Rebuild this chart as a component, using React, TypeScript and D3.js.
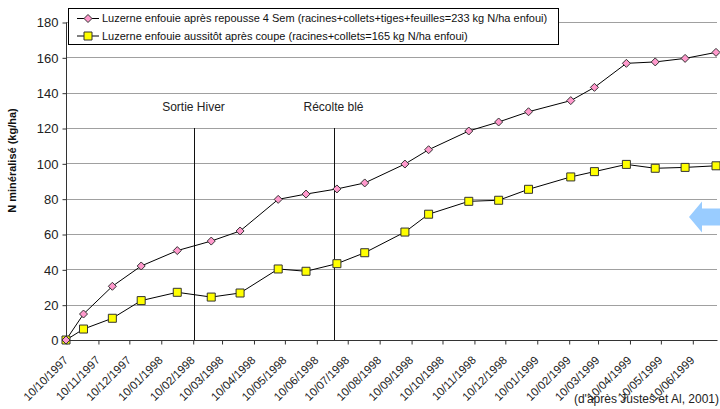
import React from "react";
import * as d3 from "d3";

// sampling dates (dd/mm/yyyy)
const sampleDates = [
  "10/10/1997", "27/10/1997", "24/11/1997", "22/12/1997", "26/01/1998",
  "28/02/1998", "28/03/1998", "04/05/1998", "31/05/1998", "30/06/1998",
  "27/07/1998", "04/09/1998", "27/09/1998", "05/11/1998", "04/12/1998",
  "02/01/1999", "12/02/1999", "07/03/1999", "07/04/1999", "05/05/1999",
  "03/06/1999", "03/07/1999",
];

// N mineralised (kg/ha)
const repousseValues = [
  0, 14.7, 30.4, 41.9, 50.6, 56.0, 61.7, 79.6, 82.6, 85.5, 88.9, 99.6,
  107.7, 118.3, 123.4, 129.2, 135.5, 143.0, 156.6, 157.4, 159.4, 162.8,
];
const coupeValues = [
  0, 6.2, 12.3, 22.3, 27.0, 24.3, 26.6, 40.2, 38.9, 43.2, 49.4, 61.1,
  71.2, 78.5, 79.1, 85.3, 92.3, 95.3, 99.4, 97.2, 97.7, 98.6,
];

const seriesNames = [
  "Luzerne enfouie après repousse 4 Sem (racines+collets+tiges+feuilles=233 kg N/ha enfoui)",
  "Luzerne enfouie aussitôt après coupe (racines+collets=165 kg N/ha enfoui)",
];

const xTickLabels = [
  "10/10/1997", "10/11/1997", "10/12/1997", "10/01/1998", "10/02/1998",
  "10/03/1998", "10/04/1998", "10/05/1998", "10/06/1998", "10/07/1998",
  "10/08/1998", "10/09/1998", "10/10/1998", "10/11/1998", "10/12/1998",
  "10/01/1999", "10/02/1999", "10/03/1999", "10/04/1999", "10/05/1999",
  "10/06/1999",
];
const yTicks = [0, 20, 40, 60, 80, 100, 120, 140, 160, 180];

// event markers (date, label, height of line)
const events = [
  { date: "11/02/1998", label: "Sortie Hiver", top: 120 },
  { date: "27/06/1998", label: "Récolte blé", top: 120 },
];

const axisStart = "10/10/1997";
const axisEnd = "03/07/1999";

const W = 720;
const H = 409;
const FONT = "'Liberation Sans', Arial, sans-serif";

const App = () => {
  const svgRef = React.useRef<SVGSVGElement>(null);

  React.useEffect(() => {
    const parse = d3.utcParse("%d/%m/%Y");
    const left = 66, right = 716, top = 22, bottom = 340;

    const xScale = d3
      .scaleUtc()
      .domain([parse(axisStart) as Date, parse(axisEnd) as Date])
      .range([left, right]);
    const yScale = d3.scaleLinear().domain([0, 180]).range([bottom, top]);

    const svg = d3.select(svgRef.current);
    svg.selectAll("*").remove();

    // horizontal grid lines
    svg
      .append("g")
      .selectAll("line")
      .data(yTicks.filter((d) => d > 0))
      .enter()
      .append("line")
      .attr("x1", left)
      .attr("x2", right + 1)
      .attr("y1", (d) => Math.round(yScale(d)) + 0.5)
      .attr("y2", (d) => Math.round(yScale(d)) + 0.5)
      .attr("stroke", "#a0a0a0")
      .attr("stroke-width", 1);

    // y axis
    const yAxisGroup = svg
      .append("g")
      .attr("transform", `translate(${left + 0.5},0.5)`)
      .call(d3.axisLeft(yScale).tickValues(yTicks).tickSize(4).tickPadding(4));
    yAxisGroup.select(".domain").attr("stroke", "#333").attr("d", `M0,${top}V${bottom}`);
    yAxisGroup.selectAll("line").attr("stroke", "#333");
    yAxisGroup
      .selectAll("text")
      .attr("font-family", FONT)
      .attr("font-size", 13)
      .attr("fill", "#222");

    // x axis
    const tickDates = xTickLabels.map((s) => parse(s) as Date);
    const xAxisGroup = svg
      .append("g")
      .attr("transform", `translate(0.5,${bottom + 0.5})`)
      .call(
        d3
          .axisBottom(xScale)
          .tickValues(tickDates)
          .tickSize(4)
          .tickFormat(() => "")
      );
    xAxisGroup.select(".domain").attr("stroke", "#333").attr("d", `M${left},0H${right + 1}`);
    xAxisGroup.selectAll("line").attr("stroke", "#333");

    svg
      .append("g")
      .selectAll("text")
      .data(xTickLabels)
      .enter()
      .append("text")
      .attr(
        "transform",
        (d) => `translate(${xScale(parse(d) as Date)},${bottom + 18}) rotate(-45)`
      )
      .attr("text-anchor", "end")
      .attr("dy", "0.35em")
      .attr("font-family", FONT)
      .attr("font-size", 11.5)
      .attr("fill", "#222")
      .text((d) => d);

    // event lines
    const ev = svg.append("g");
    events.forEach((e) => {
      const x = Math.round(xScale(parse(e.date) as Date)) + 0.5;
      ev.append("line")
        .attr("x1", x)
        .attr("x2", x)
        .attr("y1", yScale(e.top))
        .attr("y2", bottom)
        .attr("stroke", "#111")
        .attr("stroke-width", 1);
      ev.append("text")
        .attr("x", x - 1)
        .attr("y", yScale(e.top) - 17)
        .attr("text-anchor", "middle")
        .attr("font-family", FONT)
        .attr("font-size", 12)
        .attr("fill", "#222")
        .text(e.label);
    });

    const records = (vals: number[]) =>
      sampleDates.map((s, i) => ({ x: parse(s) as Date, y: vals[i] }));

    const line = d3
      .line<{ x: Date; y: number }>()
      .x((d) => xScale(d.x))
      .y((d) => yScale(d.y));

    const series = [
      { records: records(coupeValues), shape: "square" },
      { records: records(repousseValues), shape: "diamond" },
    ];

    series.forEach((s) => {
      svg
        .append("path")
        .datum(s.records)
        .attr("fill", "none")
        .attr("stroke", "#000")
        .attr("stroke-width", 1)
        .attr("d", line);
    });

    const diamond = "M0,-4L4,0L0,4L-4,0Z";
    const square = "M-4,-4H4V4H-4Z";

    series.forEach((s) => {
      svg
        .append("g")
        .selectAll("path")
        .data(s.records)
        .enter()
        .append("path")
        .attr("transform", (d) => `translate(${xScale(d.x)},${yScale(d.y)})`)
        .attr("d", s.shape === "diamond" ? diamond : square)
        .attr("fill", s.shape === "diamond" ? "#ff99cc" : "#ffff00")
        .attr("stroke", "#333")
        .attr("stroke-width", 1);
    });

    // legend
    const lg = svg.append("g");
    lg.append("rect")
      .attr("x", 68.5)
      .attr("y", 8.5)
      .attr("width", 490)
      .attr("height", 36)
      .attr("fill", "#fff")
      .attr("stroke", "#000");
    seriesNames.forEach((name, i) => {
      const cy = 18.5 + i * 17.5;
      lg.append("line")
        .attr("x1", 77)
        .attr("x2", 99)
        .attr("y1", cy)
        .attr("y2", cy)
        .attr("stroke", "#000");
      lg.append("path")
        .attr("transform", `translate(88,${cy})`)
        .attr("d", i === 0 ? diamond : square)
        .attr("fill", i === 0 ? "#ff99cc" : "#ffff00")
        .attr("stroke", "#333");
      lg.append("text")
        .attr("x", 102)
        .attr("y", cy)
        .attr("dy", "0.35em")
        .attr("font-family", FONT)
        .attr("font-size", 11)
        .attr("fill", "#111")
        .text(name);
    });

    // y axis title
    svg
      .append("text")
      .attr("transform", `translate(16,${(104 + 217) / 2}) rotate(-90)`)
      .attr("text-anchor", "middle")
      .attr("font-family", FONT)
      .attr("font-size", 11)
      .attr("font-weight", "bold")
      .attr("fill", "#111")
      .text("N minéralisé (kg/ha)");

    // blue arrow
    svg
      .append("path")
      .attr("d", "M689,217L702,201.5V208.5H720V225.5H702V232.5Z")
      .attr("fill", "#99ccff");

    // source
    svg
      .append("text")
      .attr("x", 719)
      .attr("y", 403)
      .attr("text-anchor", "end")
      .attr("font-family", FONT)
      .attr("font-size", 12)
      .attr("fill", "#222")
      .text("(d'après Justes et Al, 2001)");
  }, []);

  return (
    <svg
      ref={svgRef}
      width={W}
      height={H}
      style={{ position: "absolute", left: 0, top: 0, background: "#fff" }}
    />
  );
};

export default App;
